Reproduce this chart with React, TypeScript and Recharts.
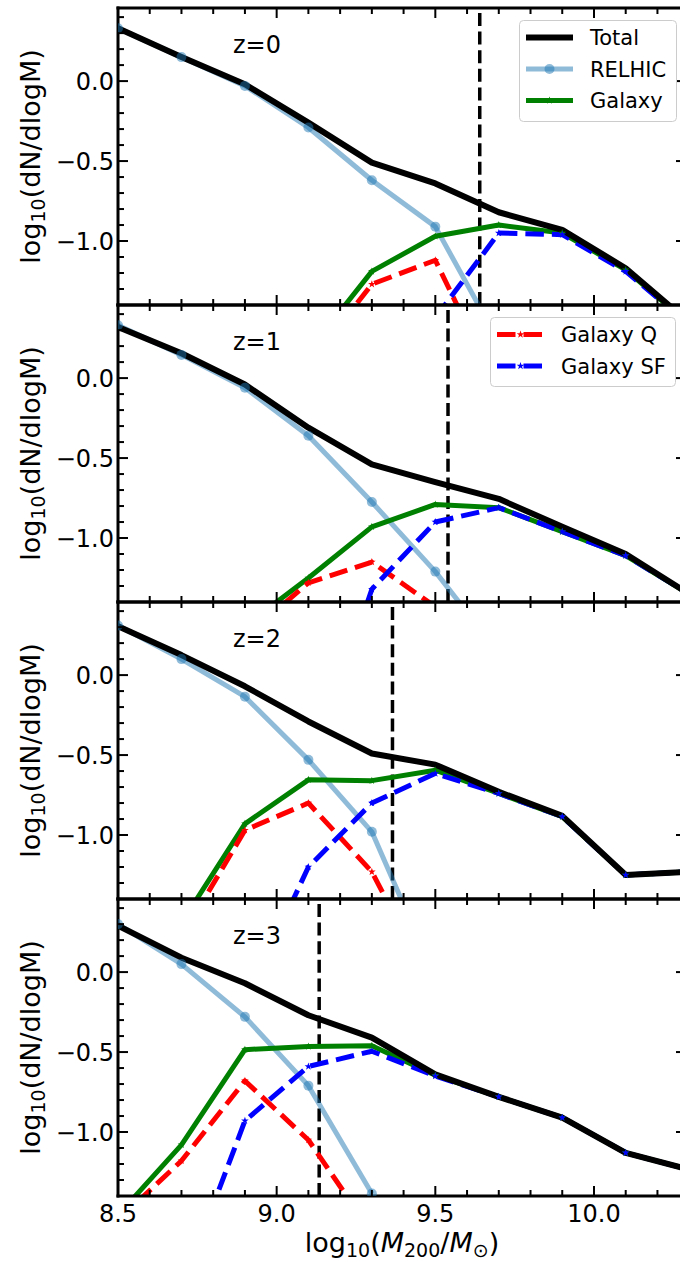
import React from "react";
import { LineChart, Line, XAxis, YAxis, ReferenceLine, Legend } from "recharts";

const FONT = "'DejaVu Sans', sans-serif";

// halo mass bins, log10(M200/Msun)
const masses = [8.5, 8.7, 8.9, 9.1, 9.3, 9.5, 9.7, 9.9, 10.1, 10.3];

// z = 0
const totalZ0 = [0.33, 0.15, -0.02, -0.26, -0.51, -0.64, -0.82, -0.93, -1.17, -1.51];
const relhicZ0 = [0.33, 0.15, -0.03, -0.29, -0.62, -0.91, -1.63];
const galaxyZ0 = [null, null, null, -1.69, -1.19, -0.97, -0.9, -0.95, -1.18, -1.52];
const quenchedZ0 = [null, null, null, -1.78, -1.27, -1.12, -1.94];
const starFormingZ0 = [null, null, null, null, null, -1.48, -0.95, -0.96, -1.19, -1.52];

// z = 1
const totalZ1 = [0.32, 0.155, -0.04, -0.31, -0.54, -0.65, -0.755, -0.93, -1.1, -1.35];
const relhicZ1 = [0.33, 0.145, -0.06, -0.36, -0.775, -1.21, -1.72];
const galaxyZ1 = [null, null, -1.55, -1.25, -0.93, -0.79, -0.81, -0.96, -1.11, -1.35];
const quenchedZ1 = [null, null, -1.62, -1.28, -1.15, -1.43, -2.0];
const starFormingZ1 = [null, null, null, -2.5, -1.32, -0.9, -0.81, -0.96, -1.11, -1.35];

// z = 2
const totalZ2 = [0.305, 0.125, -0.07, -0.29, -0.49, -0.56, -0.73, -0.88, -1.25, -1.23];
const relhicZ2 = [0.31, 0.1, -0.135, -0.53, -0.98, -1.89];
const galaxyZ2 = [null, -1.55, -0.93, -0.655, -0.66, -0.595, -0.74, -0.885, -1.25, -1.23];
const quenchedZ2 = [null, -1.64, -0.97, -0.8, -1.23, -1.99];
const starFormingZ2 = [null, null, -2.05, -1.2, -0.8, -0.615, -0.74, -0.885, -1.25, -1.23];

// z = 3
const totalZ3 = [0.29, 0.09, -0.07, -0.27, -0.41, -0.64, -0.78, -0.91, -1.13, -1.235];
const relhicZ3 = [0.3, 0.05, -0.28, -0.71, -1.385];
const galaxyZ3 = [-1.52, -1.08, -0.485, -0.465, -0.46, -0.645, -0.78, -0.91, -1.13, -1.235];
const quenchedZ3 = [-1.55, -1.18, -0.68, -1.05, -1.63];
const starFormingZ3 = [null, -1.98, -0.93, -0.59, -0.495, -0.65, -0.78, -0.91, -1.13, -1.235];

const redshiftLabels = ["z=0", "z=1", "z=2", "z=3"];
const massCuts = [9.64, 9.54, 9.365, 9.134];

const xTicks = [8.5, 8.6, 8.7, 8.8, 8.9, 9.0, 9.1, 9.2, 9.3, 9.4, 9.5, 9.6, 9.7, 9.8, 9.9, 10.0, 10.1, 10.2];
const xLabelTicks = [8.5, 9.0, 9.5, 10.0];
const yTicks = [-1.3, -1.2, -1.1, -1.0, -0.9, -0.8, -0.7, -0.6, -0.5, -0.4, -0.3, -0.2, -0.1, 0.0, 0.1, 0.2, 0.3, 0.4];
const yLabelTicks = [-1.0, -0.5, 0.0];

const panels = [
  { label: redshiftLabels[0], cut: massCuts[0], total: totalZ0, relhic: relhicZ0, galaxy: galaxyZ0, quenched: quenchedZ0, starForming: starFormingZ0 },
  { label: redshiftLabels[1], cut: massCuts[1], total: totalZ1, relhic: relhicZ1, galaxy: galaxyZ1, quenched: quenchedZ1, starForming: starFormingZ1 },
  { label: redshiftLabels[2], cut: massCuts[2], total: totalZ2, relhic: relhicZ2, galaxy: galaxyZ2, quenched: quenchedZ2, starForming: starFormingZ2 },
  { label: redshiftLabels[3], cut: massCuts[3], total: totalZ3, relhic: relhicZ3, galaxy: galaxyZ3, quenched: quenchedZ3, starForming: starFormingZ3 },
];

const series: Record<string, any> = {
  total: { name: "Total", color: "#000000", width: 6 },
  relhic: { name: "RELHIC", color: "#1f77b4", width: 5, opacity: 0.5, marker: "circle" },
  galaxy: { name: "Galaxy", color: "#008000", width: 5, marker: "star" },
  quenched: { name: "Galaxy Q", color: "#ff0000", width: 5, dash: "18.5 8", marker: "star" },
  starForming: { name: "Galaxy SF", color: "#0000ff", width: 5, dash: "18.5 8", marker: "star" },
};

const X_DOMAIN = [8.5, 10.29];
const Y_DOMAIN = [-1.4, 0.457];
const PLOT_LEFT = 118;
const CHART_W = 690;
const PLOT_H = 297;
const PANEL_TOP = 8;
const PAD = 4;
const X_AXIS_H = 66;
const MAJOR_LEN = 10;
const MINOR_LEN = 6;
const AXIS_LINE = { stroke: "#000", strokeWidth: 3, strokeLinecap: "square" };

const fmt = (v: number) => v.toFixed(1).replace("-", "\u2212");
const isMajor = (list: number[], v: number) => list.some((m) => Math.abs(m - v) < 1e-9);

function starPath(cx: number, cy: number, r: number) {
  const pts: string[] = [];
  for (let k = 0; k < 10; k++) {
    const rad = k % 2 === 0 ? r : r * 0.4;
    const a = -Math.PI / 2 + (k * Math.PI) / 5;
    pts.push(`${cx + rad * Math.cos(a)},${cy + rad * Math.sin(a)}`);
  }
  return `M${pts.join("L")}Z`;
}

const starDot = (color: string) => (p: any) => {
  if (p.cx == null || p.cy == null || p.value == null) return <g key={`s-${p.index}`} />;
  return <path key={`s-${p.index}`} d={starPath(p.cx, p.cy, 4)} fill={color} />;
};

function BottomTick({ x, y, payload, showLabel }: any) {
  const major = isMajor(xLabelTicks, payload.value);
  return (
    <g>
      <line x1={x} x2={x} y1={y} y2={y - (major ? MAJOR_LEN : MINOR_LEN)} stroke="#000" strokeWidth={2} />
      {showLabel && major && (
        <text x={x} y={y + 26} textAnchor="middle" fontSize={24} fontFamily={FONT} fill="#000">
          {fmt(payload.value)}
        </text>
      )}
    </g>
  );
}

function TopTick({ x, y, payload }: any) {
  const major = isMajor(xLabelTicks, payload.value);
  return <line x1={x} x2={x} y1={y} y2={y + (major ? MAJOR_LEN : MINOR_LEN)} stroke="#000" strokeWidth={2} />;
}

function LeftTick({ x, y, payload }: any) {
  const major = isMajor(yLabelTicks, payload.value);
  return (
    <g>
      <line x1={x} x2={x + (major ? MAJOR_LEN : MINOR_LEN)} y1={y} y2={y} stroke="#000" strokeWidth={2} />
      {major && (
        <text x={x - 4} y={y} dy="0.36em" textAnchor="end" fontSize={24} fontFamily={FONT} fill="#000">
          {fmt(payload.value)}
        </text>
      )}
    </g>
  );
}

function RightTick({ x, y, payload }: any) {
  const major = isMajor(yLabelTicks, payload.value);
  return <line x1={x} x2={x - (major ? MAJOR_LEN : MINOR_LEN)} y1={y} y2={y} stroke="#000" strokeWidth={2} />;
}

function YTitle(props: any) {
  const vb = props.viewBox || {};
  const cx = 40;
  const cy = (vb.y || 0) + (vb.height || 0) / 2;
  return (
    <text transform={`rotate(-90 ${cx} ${cy})`} x={cx} y={cy} textAnchor="middle" fontSize={27} fontFamily={FONT} fill="#000">
      log
      <tspan dy={5} fontSize={19}>10</tspan>
      <tspan dy={-5}>(dN/dlogM)</tspan>
    </text>
  );
}

function XTitle(props: any) {
  const vb = props.viewBox || {};
  const cx = (vb.x || 0) + (vb.width || 0) / 2;
  const cy = (vb.y || 0) + 56;
  return (
    <text x={cx} y={cy} textAnchor="middle" fontSize={27} fontFamily={FONT} fill="#000">
      log
      <tspan dy={5} fontSize={19}>10</tspan>
      <tspan dy={-5}>(</tspan>
      <tspan fontStyle="italic">M</tspan>
      <tspan dy={5} fontSize={19}>200</tspan>
      <tspan dy={-5}>/</tspan>
      <tspan fontStyle="italic">M</tspan>
      <tspan dy={5} fontSize={19}>{"\u2299"}</tspan>
      <tspan dy={-5}>)</tspan>
    </text>
  );
}

function PanelTag(props: any) {
  const vb = props.viewBox || {};
  return (
    <text x={(vb.x || 0) + 115} y={(vb.y || 0) + 46} fontSize={24} fontFamily={FONT} fill="#000">
      {props.text}
    </text>
  );
}

function LegendBox({ keys, width, height }: { keys: string[]; width: number; height: number }) {
  return (
    <svg width={width} height={height} style={{ display: "block" }}>
      <rect x={0.5} y={0.5} width={width - 1} height={height - 1} rx={4} fill="#fff" fillOpacity={0.8} stroke="#cccccc" />
      {keys.map((k, i) => {
        const s = series[k];
        const cy = 17.5 + i * 31.5;
        return (
          <g key={k}>
            <line x1={7} x2={54} y1={cy} y2={cy} stroke={s.color} strokeOpacity={s.opacity ?? 1} strokeWidth={s.width} strokeDasharray={s.dash} />
            {s.marker === "circle" && <circle cx={30.5} cy={cy} r={5} fill={s.color} fillOpacity={0.5} />}
            {s.marker === "star" && <path d={starPath(30.5, cy, 4)} fill={s.color} />}
            <text x={71} y={cy} dy="0.36em" fontSize={21} fontFamily={FONT} fill="#000">
              {s.name}
            </text>
          </g>
        );
      })}
    </svg>
  );
}

function Panel({ index }: { index: number }) {
  const p = panels[index];
  const last = index === panels.length - 1;
  const data = masses.map((m, i) => ({
    mass: m,
    total: p.total[i] ?? null,
    relhic: p.relhic[i] ?? null,
    galaxy: p.galaxy[i] ?? null,
    quenched: p.quenched[i] ?? null,
    starForming: p.starForming[i] ?? null,
  }));
  const height = PAD + PLOT_H + (last ? X_AXIS_H : PAD);

  const lineProps = (key: string) => {
    const s = series[key];
    return {
      type: "linear" as const,
      dataKey: key,
      name: s.name,
      stroke: s.color,
      strokeOpacity: s.opacity ?? 1,
      strokeWidth: s.width,
      strokeDasharray: s.dash,
      strokeLinejoin: "round" as const,
      isAnimationActive: false,
      connectNulls: false,
    };
  };

  return (
    <div style={{ position: "absolute", left: 0, top: PANEL_TOP + index * PLOT_H - PAD }}>
      <LineChart
        width={CHART_W}
        height={height}
        data={data}
        margin={{ top: PAD - 1, right: 0, bottom: last ? 0 : PAD - 1, left: 0 }}
      >
        <XAxis
          dataKey="mass"
          type="number"
          domain={X_DOMAIN}
          allowDataOverflow
          ticks={xTicks}
          interval={0}
          tickSize={0}
          tickMargin={0}
          tickLine={false}
          axisLine={AXIS_LINE}
          height={last ? X_AXIS_H : 1}
          tick={(t: any) => <BottomTick {...t} showLabel={last} />}
          label={last ? <XTitle /> : undefined}
        />
        <XAxis
          xAxisId="top"
          orientation="top"
          dataKey="mass"
          type="number"
          domain={X_DOMAIN}
          allowDataOverflow
          ticks={xTicks}
          interval={0}
          tickSize={0}
          tickMargin={0}
          tickLine={false}
          axisLine={AXIS_LINE}
          height={1}
          tick={(t: any) => <TopTick {...t} />}
          label={<PanelTag text={p.label} />}
        />
        <YAxis
          type="number"
          domain={Y_DOMAIN}
          allowDataOverflow
          ticks={yTicks}
          interval={0}
          tickSize={0}
          tickMargin={0}
          tickLine={false}
          axisLine={AXIS_LINE}
          width={PLOT_LEFT}
          tick={(t: any) => <LeftTick {...t} />}
          label={<YTitle />}
        />
        <YAxis
          yAxisId="right"
          orientation="right"
          type="number"
          domain={Y_DOMAIN}
          allowDataOverflow
          ticks={yTicks}
          interval={0}
          tickSize={0}
          tickMargin={0}
          tickLine={false}
          axisLine={AXIS_LINE}
          width={4}
          tick={(t: any) => <RightTick {...t} />}
        />
        <ReferenceLine x={p.cut} stroke="#000" strokeWidth={3.5} strokeDasharray="13 5.6" />
        <Line {...lineProps("relhic")} dot={{ r: 5, fill: "#1f77b4", fillOpacity: 0.5, stroke: "none", strokeWidth: 0 }} />
        <Line {...lineProps("galaxy")} dot={starDot(series.galaxy.color)} />
        <Line {...lineProps("quenched")} dot={starDot(series.quenched.color)} />
        <Line {...lineProps("starForming")} dot={starDot(series.starForming.color)} />
        <Line {...lineProps("total")} dot={false} />
        {index === 0 && (
          <Legend
            layout="vertical"
            align="center"
            verticalAlign="middle"
            wrapperStyle={{ left: 519, top: 16, width: 158, height: 102 }}
            content={() => <LegendBox keys={["total", "relhic", "galaxy"]} width={158} height={102} />}
          />
        )}
        {index === 1 && (
          <Legend
            layout="vertical"
            align="center"
            verticalAlign="middle"
            wrapperStyle={{ left: 490, top: 16, width: 186, height: 70 }}
            content={() => <LegendBox keys={["quenched", "starForming"]} width={186} height={70} />}
          />
        )}
      </LineChart>
    </div>
  );
}

export default function App() {
  return (
    <div
      style={{
        position: "absolute",
        left: 0,
        top: 0,
        width: 680,
        height: 1262,
        overflow: "hidden",
        background: "#fff",
        fontFamily: FONT,
      }}
    >
      {panels.map((_, i) => (
        <Panel key={i} index={i} />
      ))}
    </div>
  );
}
